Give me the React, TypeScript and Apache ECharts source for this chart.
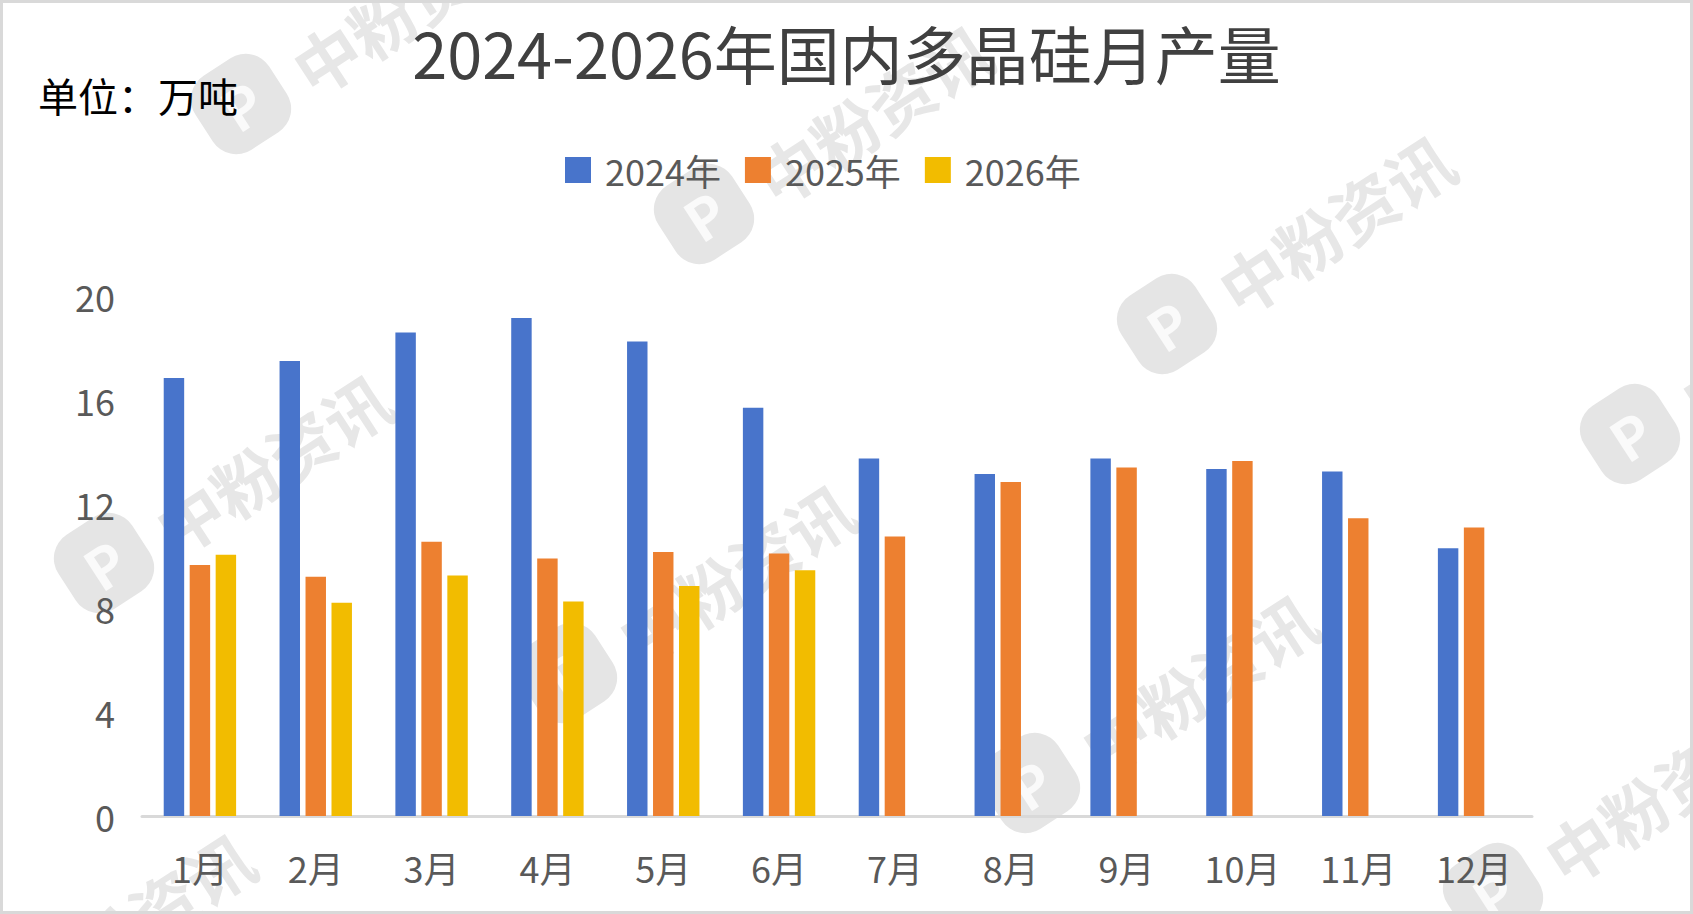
import React, { useEffect, useRef } from "react";
import * as echarts from "echarts";

const months = ["1月", "2月", "3月", "4月", "5月", "6月", "7月", "8月", "9月", "10月", "11月", "12月"];
const seriesNames = ["2024年", "2025年", "2026年"];
const values2024 = [16.85, 17.5, 18.6, 19.15, 18.25, 15.7, 13.75, 13.15, 13.75, 13.35, 13.25, 10.3];
const values2025 = [9.65, 9.2, 10.55, 9.9, 10.15, 10.1, 10.75, 12.85, 13.4, 13.65, 11.45, 11.1];
const values2026 = [10.05, 8.2, 9.25, 8.25, 8.85, 9.45, null, null, null, null, null, null];
const seriesColors = ["#4874CB", "#ED8030", "#F2BC00"];
const titleText = "2024-2026年国内多晶硅月产量";
const unitText = "单位：万吨";
const watermarkText = "中粉资讯";

const FONT = '"Noto Sans CJK SC", "Noto Sans", sans-serif';

// watermark lattice (logo centres)
const wmBase = [1167, 324];
const wmU = [463, 110];
const wmV = [-137, 459];
const wmSteps: [number, number][] = [
  [-2, 0], [-1, 0], [0, 0], [1, 0],
  [-2, 1], [-1, 1], [0, 1], [1, 1],
  [-2, 2],
];

function buildWatermarks() {
  const rot = (33 * Math.PI) / 180;
  const els: any[] = [];
  wmSteps.forEach(([a, b]) => {
    const cx = wmBase[0] + a * wmU[0] + b * wmV[0];
    const cy = wmBase[1] + a * wmU[1] + b * wmV[1];
    els.push({
      type: "rect",
      x: cx,
      y: cy,
      rotation: rot,
      z: 0,
      silent: true,
      shape: { x: -44, y: -44, width: 88, height: 88, r: 28 },
      style: { fill: "#e5e5e5" },
    });
    els.push({
      type: "text",
      x: cx,
      y: cy,
      rotation: rot,
      z: 0,
      silent: true,
      style: {
        text: "P",
        fill: "#fafafa",
        font: `bold 56px ${FONT}`,
        align: "center",
        verticalAlign: "middle",
      },
    });
    els.push({
      type: "text",
      x: cx + 168,
      y: cy - 101,
      rotation: rot,
      z: 0,
      silent: true,
      style: {
        text: watermarkText,
        fill: "#e7e7e7",
        font: `bold 66px ${FONT}`,
        align: "center",
        verticalAlign: "middle",
      },
    });
  });
  return els;
}

export default function App() {
  const ref = useRef<HTMLDivElement>(null);

  useEffect(() => {
    document.body.style.margin = "0";
    if (!ref.current) return;
    const chart = echarts.init(ref.current, undefined, { renderer: "svg" });
    const seriesData = [values2024, values2025, values2026];
    chart.setOption({
      animation: false,
      backgroundColor: "#ffffff",
      textStyle: { fontFamily: FONT },
      title: {
        text: titleText,
        left: "center",
        top: 15,
        textStyle: {
          fontFamily: FONT,
          fontSize: 63,
          fontWeight: "normal",
          color: "#404040",
        },
      },
      legend: {
        data: seriesNames,
        left: 560,
        top: 147,
        itemWidth: 26,
        itemHeight: 26,
        itemGap: 24,
        icon: "rect",
        textStyle: {
          fontFamily: FONT,
          fontSize: 36,
          color: "#595959",
          lineHeight: 36,
          padding: [0, 0, 0, 9],
        },
      },
      grid: { left: 142, right: 161, top: 296, bottom: 98, containLabel: false },
      xAxis: {
        type: "category",
        data: months,
        axisLine: { show: true, lineStyle: { color: "#d9d9d9", width: 3 } },
        axisTick: { show: false },
        axisLabel: {
          fontFamily: FONT,
          fontSize: 36,
          color: "#595959",
          margin: 33,
        },
      },
      yAxis: {
        type: "value",
        min: 0,
        max: 20,
        interval: 4,
        axisLine: { show: false },
        axisTick: { show: false },
        splitLine: { show: false },
        axisLabel: {
          fontFamily: FONT,
          fontSize: 36,
          color: "#595959",
          margin: 27,
        },
      },
      graphic: {
        elements: [
          ...buildWatermarks(),
          {
            type: "text",
            x: 38,
            y: 95,
            z: 10,
            style: {
              text: unitText,
              fill: "#000000",
              font: `40px ${FONT}`,
              align: "left",
              verticalAlign: "middle",
            },
          },
          {
            type: "rect",
            z: 10,
            silent: true,
            shape: { x: 1.5, y: 1.5, width: 1690, height: 911 },
            style: { fill: "none", stroke: "#d9d9d9", lineWidth: 3 },
          },
        ],
      },
      series: seriesNames.map((name, i) => ({
        name,
        type: "bar",
        data: seriesData[i],
        barGap: "27%",
        barCategoryGap: "37.5%",
        itemStyle: { color: seriesColors[i] },
        z: 5,
      })),
    });
    return () => {
      chart.dispose();
    };
  }, []);

  return <div ref={ref} style={{ width: 1693, height: 914 }} />;
}
